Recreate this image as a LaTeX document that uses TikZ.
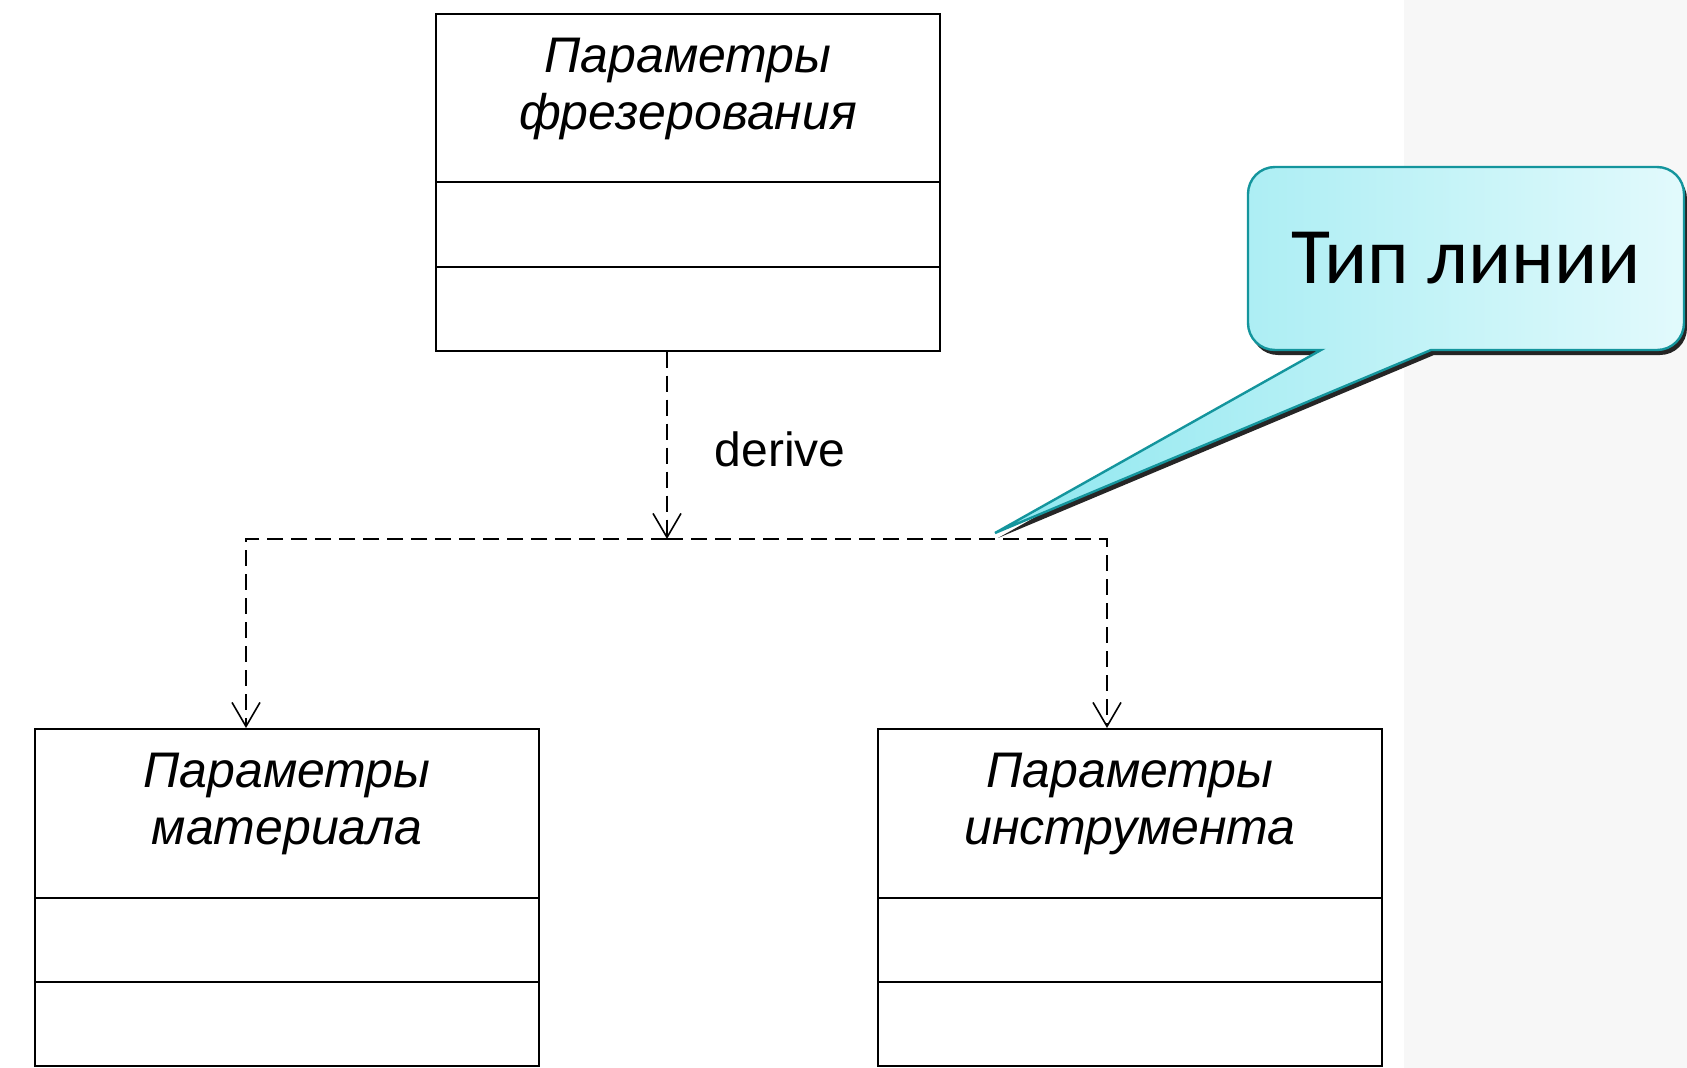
\documentclass[tikz,border=0pt]{standalone}
\usepackage{fontspec}
\newfontfamily\umlfont{Liberation Sans}
\newfontfamily\hintfont{Carlito}
\usepackage{tikz}
\usetikzlibrary{arrows.meta,calc,positioning,shadows}
\definecolor{hintdark}{HTML}{8EE7EF}
\definecolor{hintlight}{HTML}{E2FAFC}
\definecolor{hintedge}{HTML}{14959D}
\definecolor{stripgray}{HTML}{F7F7F7}
\tikzset{
    classbox/.style={draw=black,line width=2pt,minimum width=504pt,minimum height=337pt,inner sep=0pt},
    classname/.style={font=\umlfont\itshape\fontsize{50}{57}\selectfont,align=center,inner sep=0pt},
    classline/.style={line width=2pt,draw=black},
    depdash/.style={line width=1.6pt,draw=black,dash pattern=on 16pt off 8pt},
    depline/.style={depdash,-{Straight Barb[length=24pt,width=28pt,line width=1.6pt]}},
    deplabel/.style={font=\umlfont\fontsize{48}{54}\selectfont,inner sep=0pt},
    hintshape/.style={draw=hintedge,line width=2.4pt,left color=hintdark,right color=hintlight,
        drop shadow={shadow xshift=3pt,shadow yshift=-5pt,opacity=0.85,fill=black}},
    hinttext/.style={font=\hintfont\fontsize{80}{90}\selectfont,inner sep=0pt}
}
\begin{document}
\begin{tikzpicture}[x=1pt,y=-1pt]
  \useasboundingbox (0,0) rectangle (1687,1068);
  % серая полоса фона справа
  \fill[stripgray] (1404,0) rectangle (1687,1068);

  % три класса
  \node[classbox] (frez)  at (688,182)   {};
  \node[classbox] (mat)   at (287,897.5) {};
  \node[classbox] (instr) at (1130,897.5) {};

  % разделители секций
  \foreach \b in {frez,mat,instr}{
    \draw[classline] ($(\b.north west)!0.5!(\b.south west)$) -- ($(\b.north east)!0.5!(\b.south east)$);
    \draw[classline] ($(\b.north west)!0.75!(\b.south west)$) -- ($(\b.north east)!0.75!(\b.south east)$);
  }

  % имена классов
  \node[classname,below=25pt of frez.north]
    (frez-name) {Параметры\\фрезерования};
  \node[classname,below=25pt of mat.north]
    (mat-name) {Параметры\\материала};
  \node[classname,below=25pt of instr.north]
    (instr-name) {Параметры\\инструмента};

  % точки ветвления
  \coordinate (split) at (667,539);
  \coordinate (lturn) at (246,539);
  \coordinate (rturn) at (1107,539);

  % зависимости
  \draw[depline] (frez.south -| split) -- (split);
  \draw[depline] (split) -- (lturn) -- (lturn |- mat.north);
  \draw[depline] (split) -- (rturn) -- (rturn |- instr.north);

  \node[deplabel] (derive) at (780,449) {derive};

  % выноска
  \coordinate (hinttip) at (995,533);
  \path[hintshape] (1321,350) -- (hinttip) -- (1431,350) -- (1657,350)
    .. controls (1672,350) and (1684,338) .. (1684,323) -- (1684,194)
    .. controls (1684,179) and (1672,167) .. (1657,167) -- (1275,167)
    .. controls (1260,167) and (1248,179) .. (1248,194) -- (1248,323)
    .. controls (1248,338) and (1260,350) .. (1275,350) -- cycle;
  \node[hinttext] (hint) at (1466,258) {Тип линии};

\end{tikzpicture}
\end{document}
